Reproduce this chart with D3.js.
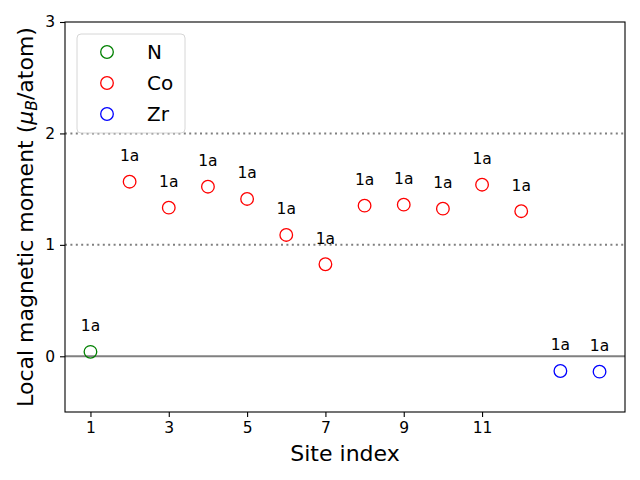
<!DOCTYPE html>
<html>
<head>
<meta charset="utf-8">
<script src="https://cdn.jsdelivr.net/npm/d3@7"></script>
<style>
  body { margin: 0; background: #fff; }
  svg { font-family: "DejaVu Sans", sans-serif; }
</style>
</head>
<body>
<div id="chart"></div>
<script>
// site data
const siteIndex = [1, 2, 3, 4, 5, 6, 7, 8, 9, 10, 11, 12, 13, 14];
const moments = [0.04, 1.567, 1.334, 1.522, 1.412, 1.089, 0.826, 1.352, 1.361, 1.325, 1.540, 1.302, -0.132, -0.138];
const elements = ['N', 'Co', 'Co', 'Co', 'Co', 'Co', 'Co', 'Co', 'Co', 'Co', 'Co', 'Co', 'Zr', 'Zr'];
const wyckoff = ['1a', '1a', '1a', '1a', '1a', '1a', '1a', '1a', '1a', '1a', '1a', '1a', '1a', '1a'];

const legendNames = ['N', 'Co', 'Zr'];
const legendColors = ['green', 'red', 'blue'];
const xTicks = [1, 3, 5, 7, 9, 11];
const yTicks = [0, 1, 2, 3];
const dottedLevels = [1, 2];

const W = 640, H = 480;
const margin = { top: 22, right: 15, bottom: 68, left: 65 };
const width = W - margin.left - margin.right;
const height = H - margin.top - margin.bottom;

const color = d3.scaleOrdinal().domain(legendNames).range(legendColors);

const x = d3.scaleLinear().domain([0.35, 14.65]).range([0, width]);
const y = d3.scaleLinear().domain([-0.5, 3]).range([height, 0]);

const data = siteIndex.map((s, i) => ({ s: s, m: moments[i], el: elements[i], w: wyckoff[i] }));

const svg = d3.select('#chart')
    .append('svg')
    .attr('width', W)
    .attr('height', H);

const g = svg.append('g')
    .attr('transform', `translate(${margin.left}, ${margin.top})`);

// reference lines
g.selectAll('.dotted')
    .data(dottedLevels)
    .enter()
    .append('line')
    .attr('x1', 0)
    .attr('x2', width)
    .attr('y1', d => y(d))
    .attr('y2', d => y(d))
    .attr('stroke', 'gray')
    .attr('stroke-width', 2)
    .attr('stroke-dasharray', '2,3.4');

g.append('line')
    .attr('x1', 0)
    .attr('x2', width)
    .attr('y1', y(0))
    .attr('y2', y(0))
    .attr('stroke', 'gray')
    .attr('stroke-width', 2);

// points
g.selectAll('.pt')
    .data(data)
    .enter()
    .append('circle')
    .attr('cx', d => x(d.s))
    .attr('cy', d => y(d.m))
    .attr('r', 6.3)
    .attr('fill', 'none')
    .attr('stroke', d => color(d.el))
    .attr('stroke-width', 1.3);

// wyckoff labels
g.selectAll('.lbl')
    .data(data)
    .enter()
    .append('text')
    .attr('x', d => x(d.s))
    .attr('y', d => y(d.m) - 20.5)
    .attr('text-anchor', 'middle')
    .style('font-size', '15.5px')
    .text(d => d.w);

// axes
const xAxis = d3.axisBottom(x).tickValues(xTicks).tickSize(5).tickPadding(5).tickFormat(d3.format('d'));
const yAxis = d3.axisLeft(y).tickValues(yTicks).tickSize(5).tickPadding(5).tickFormat(d3.format('d'));

const gx = g.append('g')
    .attr('transform', `translate(0, ${height})`)
    .call(xAxis);
const gy = g.append('g').call(yAxis);

[gx, gy].forEach(a => {
    a.select('.domain').remove();
    a.selectAll('line').attr('stroke', '#000').attr('stroke-width', 1.1);
    a.selectAll('text')
        .style('font-size', '15.5px')
        .style('font-family', '"DejaVu Sans", sans-serif')
        .attr('fill', '#000');
});

// frame
g.append('rect')
    .attr('width', width)
    .attr('height', height)
    .attr('fill', 'none')
    .attr('stroke', '#000')
    .attr('stroke-width', 1.1);

// axis labels
svg.append('text')
    .attr('x', margin.left + width / 2)
    .attr('y', 461)
    .attr('text-anchor', 'middle')
    .style('font-size', '22px')
    .text('Site index');

const yl = svg.append('text')
    .attr('transform', `translate(33, ${margin.top + height / 2}) rotate(-90)`)
    .attr('text-anchor', 'middle')
    .style('font-size', '22px');
yl.append('tspan').text('Local magnetic moment (');
yl.append('tspan').style('font-style', 'italic').text('μ');
yl.append('tspan').style('font-style', 'italic').style('font-size', '15.5px').attr('dy', 4).text('B');
yl.append('tspan').attr('dy', -4).text('/atom)');

// legend
const lg = svg.append('g').attr('transform', 'translate(77, 34)');
lg.append('rect')
    .attr('width', 108)
    .attr('height', 99)
    .attr('rx', 4)
    .attr('fill', 'rgba(255,255,255,0.8)')
    .attr('stroke', '#d6d6d6')
    .attr('stroke-width', 1);

const items = lg.selectAll('.item')
    .data(legendNames)
    .enter()
    .append('g')
    .attr('transform', (d, i) => `translate(0, ${18 + i * 31})`);

items.append('circle')
    .attr('cx', 30)
    .attr('cy', 0)
    .attr('r', 6.3)
    .attr('fill', 'none')
    .attr('stroke', d => color(d))
    .attr('stroke-width', 1.3);

items.append('text')
    .attr('x', 70)
    .attr('y', 7)
    .style('font-size', '20px')
    .text(d => d);
</script>
</body>
</html>
